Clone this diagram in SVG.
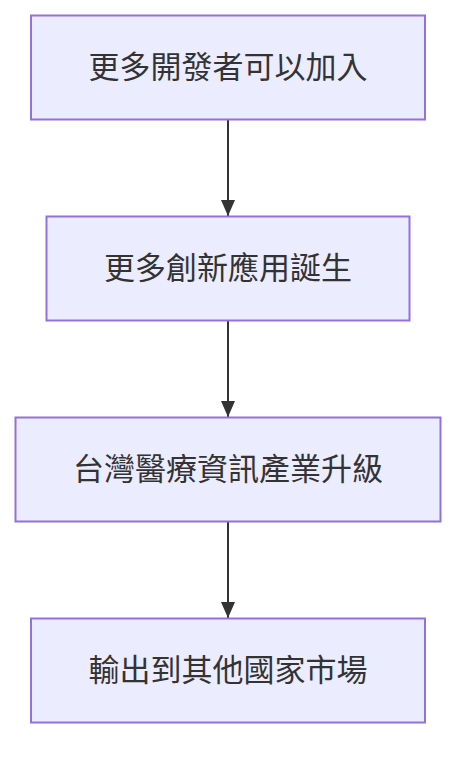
<svg xmlns="http://www.w3.org/2000/svg" width="472" height="764" viewBox="0 0 472 764">
<style>
.node rect{fill:#ECECFF;stroke:#9370DB;stroke-width:2}
.node text{font-family:"Noto Sans CJK TC","Noto Sans CJK SC",sans-serif;font-size:31px;fill:#333333;text-anchor:middle;dominant-baseline:central}
.edge{stroke:#333333;stroke-width:2;fill:none}
</style>
<defs>
<marker id="arrow" markerUnits="userSpaceOnUse" markerWidth="16" markerHeight="14" refX="16" refY="7" viewBox="0 0 16 14" orient="auto">
<path d="M0,0 L16,7 L0,14 Z" fill="#333333"/>
</marker>
</defs>
<rect width="472" height="764" fill="#ffffff"/>
<g id="connectors">
<path class="edge" d="M228,120 L228,216" marker-end="url(#arrow)"/>
<path class="edge" d="M228,321 L228,417" marker-end="url(#arrow)"/>
<path class="edge" d="M228,522 L228,618" marker-end="url(#arrow)"/>
</g>
<g id="n1" class="node"><rect x="31" y="15.5" width="394" height="104"/><text x="228" y="64">更多開發者可以加入</text></g>
<g id="n2" class="node"><rect x="46.5" y="216.5" width="363" height="104"/><text x="228" y="265">更多創新應用誕生</text></g>
<g id="n3" class="node"><rect x="15.5" y="417.5" width="425" height="104"/><text x="228" y="466">台灣醫療資訊產業升級</text></g>
<g id="n4" class="node"><rect x="31" y="618.5" width="394" height="104"/><text x="228" y="667">輸出到其他國家市場</text></g>
</svg>
